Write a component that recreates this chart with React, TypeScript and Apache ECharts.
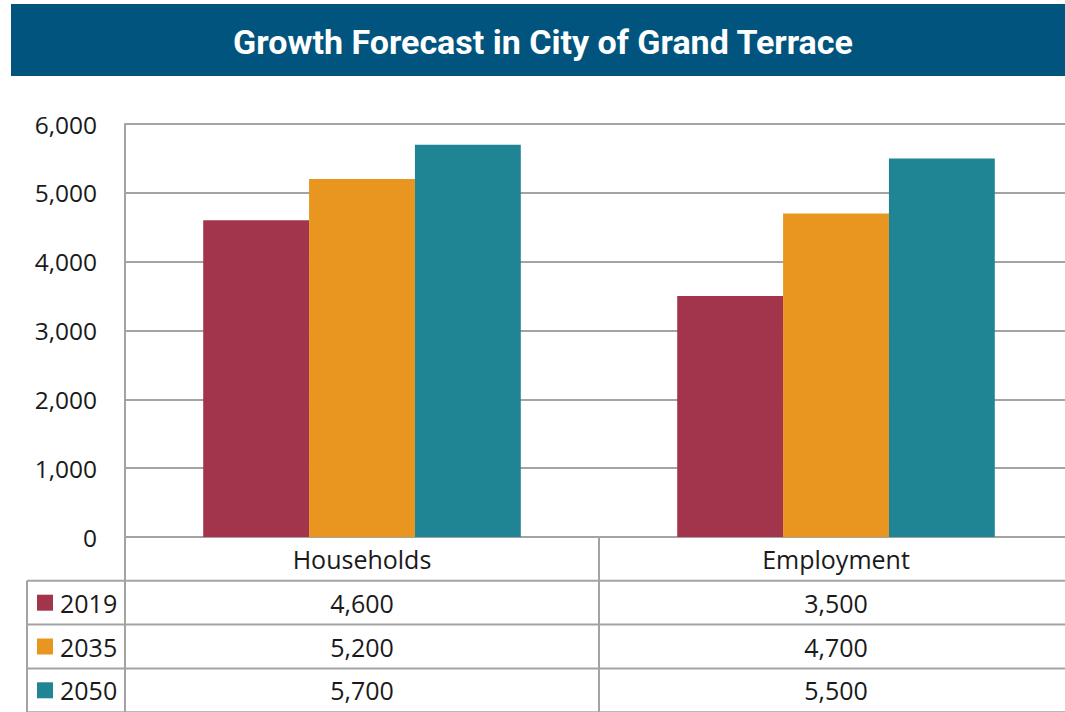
import React, { useEffect, useRef } from "react";
import * as echarts from "echarts";

const categories = ["Households", "Employment"];
const seriesNames = ["2019", "2035", "2050"];
const values2019 = [4600, 3500];
const values2035 = [5200, 4700];
const values2050 = [5700, 5500];
const seriesValues = [values2019, values2035, values2050];
const colors = ["#A2354C", "#E8961F", "#1F8494"];
const yTicks = { min: 0, max: 6000, interval: 1000 };
const title = "Growth Forecast in City of Grand Terrace";

const W = 1065;
const H = 712;
const CANVAS_W = 1080;
const GRID_LEFT = 125;
const GRID_TOP = 124;
const GRID_W = 948;
const GRID_H = 413;
const ROW_H = 43.8;
const LEGEND_LEFT = 27;
const LINE = "#A3A3A3";
const FONT = "'Open Sans', sans-serif";
const TABLE_FONT = `25px ${FONT}`;

const fmt = (v: number) => v.toLocaleString("en-US");

export default function App() {
  const ref = useRef<HTMLDivElement>(null);
  useEffect(() => {
    if (!ref.current) return;
    const chart = echarts.init(ref.current, null, { renderer: "svg" });
    const bandW = GRID_W / categories.length;
    const zeroY = GRID_TOP + GRID_H;
    const tableBottom = H + 10;
    const graphics: any[] = [];
    graphics.push({
      type: "rect",
      shape: { x: 11, y: 4, width: W - 11, height: 72 },
      style: { fill: "#00547E" },
    });
    graphics.push({
      type: "text",
      x: (11 + W) / 2 + 5,
      y: 42,
      style: {
        text: title,
        fill: "#ffffff",
        font: "bold 34px Roboto, sans-serif",
        textAlign: "center",
        textVerticalAlign: "middle",
      },
    });
    const hLine = (x1: number, x2: number, y: number) =>
      graphics.push({
        type: "line",
        shape: { x1, y1: y, x2, y2: y },
        style: { stroke: LINE, lineWidth: 2 },
      });
    const vLine = (x: number, y1: number, y2: number) =>
      graphics.push({
        type: "line",
        shape: { x1: x, y1, x2: x, y2 },
        style: { stroke: LINE, lineWidth: 2 },
      });
    for (let r = 0; r <= seriesNames.length; r++) {
      hLine(LEGEND_LEFT, GRID_LEFT + GRID_W, zeroY + ROW_H * (r + 1));
    }
    vLine(LEGEND_LEFT, zeroY + ROW_H, tableBottom);
    for (let c = 1; c <= categories.length; c++) {
      vLine(GRID_LEFT + bandW * c, zeroY, tableBottom);
    }
    vLine(GRID_LEFT, GRID_TOP, tableBottom);
    categories.forEach((cat, c) => {
      graphics.push({
        type: "text",
        x: GRID_LEFT + bandW * (c + 0.5),
        y: zeroY + ROW_H / 2,
        style: {
          text: cat,
          fill: "#1a1a1a",
          font: TABLE_FONT,
          textAlign: "center",
          textVerticalAlign: "middle",
        },
      });
    });
    seriesNames.forEach((name, r) => {
      const cy = zeroY + ROW_H * (r + 1.5);
      graphics.push({
        type: "rect",
        shape: { x: 37, y: cy - 8, width: 16, height: 16 },
        style: { fill: colors[r] },
      });
      graphics.push({
        type: "text",
        x: 60,
        y: cy,
        style: {
          text: name,
          fill: "#1a1a1a",
          font: TABLE_FONT,
          textAlign: "left",
          textVerticalAlign: "middle",
        },
      });
      seriesValues[r].forEach((v, c) => {
        graphics.push({
          type: "text",
          x: GRID_LEFT + bandW * (c + 0.5),
          y: cy,
          style: {
            text: fmt(v),
            fill: "#1a1a1a",
            font: TABLE_FONT,
            textAlign: "center",
            textVerticalAlign: "middle",
          },
        });
      });
    });

    chart.setOption({
      animation: false,
      grid: { left: GRID_LEFT, top: GRID_TOP, width: GRID_W, height: GRID_H, containLabel: false },
      xAxis: {
        type: "category",
        data: categories,
        axisLine: { show: true, lineStyle: { color: LINE, width: 2 } },
        axisTick: { show: false },
        axisLabel: { show: false },
      },
      yAxis: {
        type: "value",
        min: yTicks.min,
        max: yTicks.max,
        interval: yTicks.interval,
        axisLine: { show: true, lineStyle: { color: LINE, width: 2 } },
        axisTick: { show: false },
        axisLabel: {
          formatter: (v: number) => fmt(v),
          color: "#1a1a1a",
          fontSize: 24.5,
          fontFamily: FONT,
          margin: 28,
        },
        splitLine: { lineStyle: { color: LINE, width: 2 } },
      },
      series: seriesNames.map((name, i) => ({
        name,
        type: "bar",
        data: seriesValues[i],
        barGap: "0%",
        barCategoryGap: "33%",
        itemStyle: { color: colors[i] },
      })),
      graphic: graphics,
    });
    return () => chart.dispose();
  }, []);
  return (
    <div
      style={{
        position: "fixed",
        left: 0,
        top: 0,
        width: W,
        height: H,
        overflow: "hidden",
        background: "#fff",
      }}
    >
      <div ref={ref} style={{ width: CANVAS_W, height: H }} />
    </div>
  );
}
